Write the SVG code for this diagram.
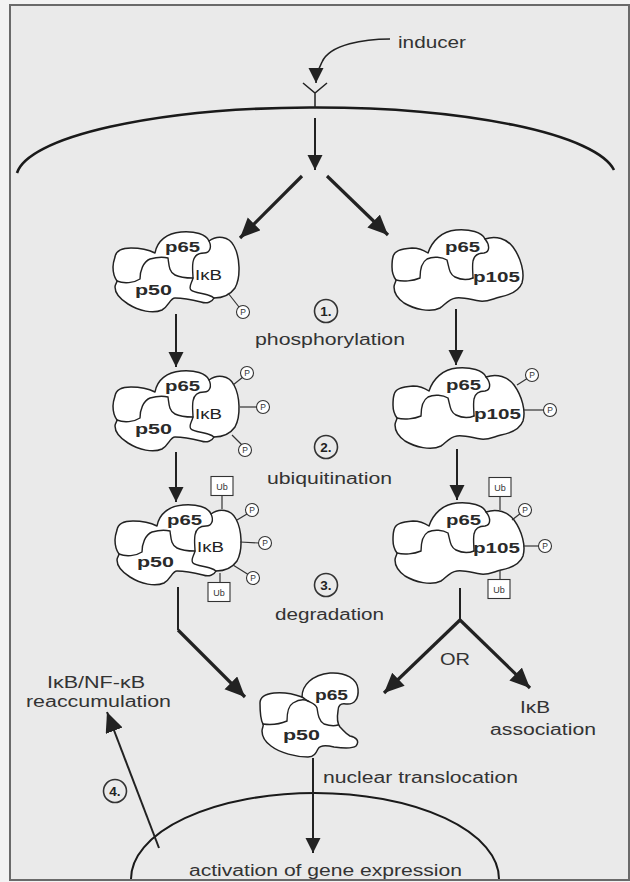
<svg xmlns="http://www.w3.org/2000/svg" xmlns:xlink="http://www.w3.org/1999/xlink" width="630" height="882" viewBox="0 0 630 882">
<style>
.lbl{font-family:'Liberation Sans',Arial,sans-serif;font-size:16px;fill:#333}
.pl{font-family:'Liberation Sans',Arial,sans-serif;font-size:15px;font-weight:bold;fill:#2a2a2a}
.ik{font-family:'Liberation Sans',Arial,sans-serif;font-size:15px;fill:#222}
.num{font-family:'Liberation Sans',Arial,sans-serif;font-size:13.5px;font-weight:bold;fill:#222}
.ps{font-family:'Liberation Sans',Arial,sans-serif;font-size:8.5px;fill:#333}
.ubt{font-family:'Liberation Sans',Arial,sans-serif;font-size:9px;fill:#333}
.blob{fill:#fff;stroke:#222;stroke-width:1.5;stroke-linejoin:round}
.inner{fill:none;stroke:#222;stroke-width:1.4;stroke-linecap:round}
.pc{fill:#fff;stroke:#333;stroke-width:1.1}
.link{stroke:#333;stroke-width:1.2}
.conn{fill:none;stroke:#222;stroke-width:2}
.thick{stroke-width:3.2}
.ring{fill:none;stroke:#333;stroke-width:1.6}
</style>
<defs>
<marker id="ah" markerUnits="userSpaceOnUse" markerWidth="16" markerHeight="16" refX="15" refY="7.5" orient="auto">
<path d="M0,0 L15,7.5 L0,15 Z" fill="#222"/>
</marker>
<marker id="ahb" markerUnits="userSpaceOnUse" markerWidth="22" markerHeight="20" refX="20" refY="9" orient="auto">
<path d="M0,0 L20,9 L0,18 Z" fill="#222"/>
</marker>
<g id="ikbShape">
<path class="blob" d="M2,30 C3,23 9,21 18,21 C28,21 36,23 42,26 C44,14 54,6 68,5 C82,4 93,7 96,14 C104,8 116,9 121,19 C127,30 128,50 122,61 C117,68 109,71 101,71 C99,75 94,77 88,75 C80,73 70,71 62,71 C57,71 56,79 49,83 C40,87 26,84 15,77 C7,72 2,66 2,60 C2,57 4,56 4,54 C1,50 0,44 0,40 C0,36 1,33 2,30 Z"/>
<path class="inner" d="M4,54 C11,57 21,56 27,52 C27,44 30,35 37,32 C44,30 51,30 55,31 C56,38 56,45 62,48 C68,51 75,51 80,51"/>
<path class="inner" d="M96,14 C99,20 97,26 91,26 C85,26 81,29 80,35 C79,41 80,47 80,51 C79,56 75,60 78,63 C81,66 90,66 95,68 C98,69 100,70 101,71"/>
</g>
<g id="p105Shape">
<path class="blob" d="M1,30 C2,24 8,22 20,21 C28,21 33,24 36,26 C40,14 50,4 64,3 C78,2 90,5 93,12 C104,8 115,12 121,20 C129,31 133,46 130,56 C127,64 118,68 108,70 C100,72 95,75 88,74 C80,73 72,70 64,71 C56,72 53,78 48,81 C38,86 22,82 12,76 C5,71 2,65 2,60 C2,57 4,55 4,53 C1,49 0,44 0,40 C0,36 0,33 1,30 Z"/>
<path class="inner" d="M4,53 C11,55 21,54 28,51 C28,43 30,35 35,32 C41,29 50,30 55,33 C57,40 57,47 63,50 C69,53 76,53 81,51"/>
<path class="inner" d="M93,12 C98,18 98,25 92,26 C86,26 82,29 81,34 C80,40 81,46 81,51"/>
</g>
<g id="pp"><circle r="6.5" class="pc"/><text class="ps" y="3" text-anchor="middle">P</text></g>
<g id="ub"><rect x="-11" y="-9.5" width="22" height="19" class="pc"/><text class="ubt" y="3.5" text-anchor="middle">Ub</text></g>
</defs>

<rect x="0" y="0" width="630" height="882" fill="#f3f3f3"/>
<rect x="10" y="5" width="619" height="875" fill="#eaeaea" stroke="#6a6a6a" stroke-width="2"/>

<g id="membranes">
<path d="M17,173 A300,71 0 0 1 614,170" fill="none" stroke="#1a1a1a" stroke-width="2.6"/>
<path d="M303,83 L315,93 L327,83 M315,93 L315,108" fill="none" stroke="#222" stroke-width="1.5"/>
<path d="M131,879 A184,86 0 0 1 499,879" fill="none" stroke="#1a1a1a" stroke-width="2"/>
</g>

<g id="connectors">
<path class="conn" style="stroke-width:1.6" d="M390,39 C365,39 330,44 322,62 C318,70 316,76 316,83" marker-end="url(#ah)"/>
<path class="conn" d="M315,118 L315,170" marker-end="url(#ah)"/>
<path class="conn thick" d="M302,176 L240,238" marker-end="url(#ahb)"/>
<path class="conn thick" d="M327,176 L388,235" marker-end="url(#ahb)"/>
<path class="conn" d="M176,314 L176,367" marker-end="url(#ah)"/>
<path class="conn" d="M176,452 L176,502" marker-end="url(#ah)"/>
<path class="conn" d="M456,309 L456,365" marker-end="url(#ah)"/>
<path class="conn" d="M457,449 L457,500" marker-end="url(#ah)"/>
<path class="conn" d="M178,587 L178,630"/>
<path class="conn thick" d="M178,630 L245,697" marker-end="url(#ahb)"/>
<path class="conn" d="M460,588 L460,621"/>
<path class="conn thick" d="M460,620 L384,693" marker-end="url(#ahb)"/>
<path class="conn thick" d="M460,620 L530,688" marker-end="url(#ahb)"/>
<path class="conn" d="M313,758 L313,853" marker-end="url(#ah)"/>
<path class="conn" d="M159,848 L107,712" marker-end="url(#ahb)"/>
</g>

<g id="node-L1" transform="translate(113,227)">
<use xlink:href="#ikbShape"/>
<line class="link" x1="115" y1="66" x2="126" y2="80"/>
<use xlink:href="#pp" x="130" y="85"/>
<text class="pl" x="52" y="25" textLength="35" lengthAdjust="spacingAndGlyphs">p65</text>
<text class="ik" x="82" y="53" textLength="27" lengthAdjust="spacingAndGlyphs">IκB</text>
<text class="pl" x="22" y="68" textLength="37" lengthAdjust="spacingAndGlyphs">p50</text>
</g>

<g id="node-L2" transform="translate(113,366)">
<use xlink:href="#ikbShape"/>
<line class="link" x1="120" y1="19" x2="130" y2="11"/>
<line class="link" x1="127" y1="41" x2="144" y2="41"/>
<line class="link" x1="119" y1="69" x2="129" y2="79"/>
<use xlink:href="#pp" x="134" y="7"/>
<use xlink:href="#pp" x="150" y="41"/>
<use xlink:href="#pp" x="132" y="84"/>
<text class="pl" x="52" y="25" textLength="35" lengthAdjust="spacingAndGlyphs">p65</text>
<text class="ik" x="82" y="53" textLength="27" lengthAdjust="spacingAndGlyphs">IκB</text>
<text class="pl" x="22" y="68" textLength="37" lengthAdjust="spacingAndGlyphs">p50</text>
</g>

<g id="node-L3" transform="translate(115,500)">
<use xlink:href="#ikbShape"/>
<line class="link" x1="107" y1="-5" x2="107" y2="9"/>
<line class="link" x1="122" y1="20" x2="132" y2="14"/>
<line class="link" x1="125" y1="42" x2="144" y2="43"/>
<line class="link" x1="118" y1="65" x2="134" y2="75"/>
<line class="link" x1="105" y1="73" x2="105" y2="83"/>
<use xlink:href="#ub" x="107" y="-14"/>
<use xlink:href="#ub" x="104" y="92"/>
<use xlink:href="#pp" x="137" y="10"/>
<use xlink:href="#pp" x="150" y="43"/>
<use xlink:href="#pp" x="138" y="78"/>
<text class="pl" x="52" y="25" textLength="35" lengthAdjust="spacingAndGlyphs">p65</text>
<text class="ik" x="82" y="52" textLength="27" lengthAdjust="spacingAndGlyphs">IκB</text>
<text class="pl" x="22" y="67" textLength="37" lengthAdjust="spacingAndGlyphs">p50</text>
</g>

<g id="node-R1" transform="translate(392,227)">
<use xlink:href="#p105Shape"/>
<text class="pl" x="53" y="25" textLength="35" lengthAdjust="spacingAndGlyphs">p65</text>
<text class="pl" x="81" y="55" textLength="47" lengthAdjust="spacingAndGlyphs">p105</text>
</g>

<g id="node-R2" transform="translate(393,365)">
<use xlink:href="#p105Shape"/>
<line class="link" x1="124" y1="20" x2="135" y2="13"/>
<line class="link" x1="131" y1="45" x2="151" y2="45"/>
<use xlink:href="#pp" x="139" y="10"/>
<use xlink:href="#pp" x="157" y="45"/>
<text class="pl" x="53" y="25" textLength="35" lengthAdjust="spacingAndGlyphs">p65</text>
<text class="pl" x="81" y="54" textLength="47" lengthAdjust="spacingAndGlyphs">p105</text>
</g>

<g id="node-R3" transform="translate(393,500)">
<use xlink:href="#p105Shape"/>
<line class="link" x1="107" y1="-4" x2="107" y2="10"/>
<line class="link" x1="119" y1="20" x2="128" y2="13"/>
<line class="link" x1="130" y1="46" x2="146" y2="46"/>
<line class="link" x1="107" y1="70" x2="107" y2="80"/>
<use xlink:href="#ub" x="107" y="-13"/>
<use xlink:href="#ub" x="106" y="89"/>
<use xlink:href="#pp" x="132" y="10"/>
<use xlink:href="#pp" x="152" y="46"/>
<text class="pl" x="53" y="25" textLength="35" lengthAdjust="spacingAndGlyphs">p65</text>
<text class="pl" x="80" y="53" textLength="47" lengthAdjust="spacingAndGlyphs">p105</text>
</g>

<g id="node-NFkB" transform="translate(260,673)">
<path class="blob" d="M0,30 C0,24 5,21 14,20 C24,19 34,21 42,24 C42,12 52,2 70,0 C86,-1 97,6 98,16 C99,26 94,32 86,31 C80,30 78,33 78,38 C77,44 77,50 80,54 C84,58 86,61 90,63 C96,64 100,68 96,73 C92,76 82,75 74,74 C66,72 60,72 58,76 C56,80 54,84 48,84 C36,84 20,80 11,73 C4,68 2,62 2,58 C2,55 4,53 3,51 C0,46 0,38 0,30 Z"/>
<path class="inner" d="M3,51 C10,52 20,51 27,48 C27,40 28,33 33,30 C38,27 44,26 48,28 C52,30 56,31 57,35 C58,42 59,48 64,51 C70,53 75,53 78,52"/>
<path class="inner" d="M42,24 C44,25 46,27 48,28"/>
<text class="pl" x="55" y="27" textLength="33" lengthAdjust="spacingAndGlyphs">p65</text>
<text class="pl" x="23" y="67" textLength="37" lengthAdjust="spacingAndGlyphs">p50</text>
</g>

<g id="steps">
<circle class="ring" cx="326" cy="311" r="11.5"/>
<text class="num" x="326" y="316" text-anchor="middle">1.</text>
<circle class="ring" cx="326" cy="447" r="11.5"/>
<text class="num" x="326" y="452" text-anchor="middle">2.</text>
<circle class="ring" cx="326" cy="585" r="11.5"/>
<text class="num" x="326" y="590" text-anchor="middle">3.</text>
<circle class="ring" cx="115" cy="791" r="11.5"/>
<text class="num" x="115" y="796" text-anchor="middle">4.</text>
</g>

<g id="labels">
<text class="lbl" x="398" y="48" textLength="68" lengthAdjust="spacingAndGlyphs">inducer</text>
<text class="lbl" x="255" y="345" textLength="150" lengthAdjust="spacingAndGlyphs">phosphorylation</text>
<text class="lbl" x="267" y="484" textLength="125" lengthAdjust="spacingAndGlyphs">ubiquitination</text>
<text class="lbl" x="275" y="620" textLength="109" lengthAdjust="spacingAndGlyphs">degradation</text>
<text class="lbl" x="440" y="665" textLength="30" lengthAdjust="spacingAndGlyphs">OR</text>
<text class="lbl" x="520" y="713" textLength="30" lengthAdjust="spacingAndGlyphs">IκB</text>
<text class="lbl" x="490" y="735" textLength="106" lengthAdjust="spacingAndGlyphs">association</text>
<text class="lbl" x="47" y="688" textLength="98" lengthAdjust="spacingAndGlyphs">IκB/NF-κB</text>
<text class="lbl" x="26" y="707" textLength="145" lengthAdjust="spacingAndGlyphs">reaccumulation</text>
<text class="lbl" x="323" y="783" textLength="195" lengthAdjust="spacingAndGlyphs">nuclear translocation</text>
<text class="lbl" x="189" y="876" textLength="273" lengthAdjust="spacingAndGlyphs">activation of gene expression</text>
</g>
</svg>
